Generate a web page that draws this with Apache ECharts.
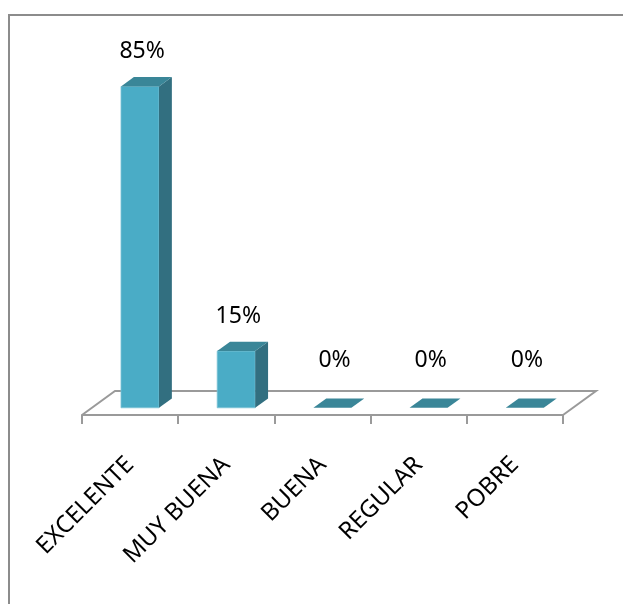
<!DOCTYPE html>
<html>
<head>
<meta charset="utf-8">
<script src="https://cdn.jsdelivr.net/npm/echarts@6/dist/echarts.min.js"></script>
<style>
  html, body { margin: 0; padding: 0; background: #fff; }
  #chart { width: 623px; height: 604px; }
</style>
</head>
<body>
<div id="chart"></div>
<script>
// Survey result shares per rating
const categories = ['EXCELENTE', 'MUY BUENA', 'BUENA', 'REGULAR', 'POBRE'];
const percentages = [85, 15, 0, 0, 0];
const valueLabels = percentages.map(v => v + '%');

const FRONT = '#4aacc6';
const SIDE = '#326f80';
const TOP = '#3a8698';
const FLOOR_LINE = '#9a9a9a';
const FONT = '"Noto Sans", "Open Sans", sans-serif';

// depth of the floor, as a fraction of one category band
const FLOOR_DX = 0.343, FLOOR_DY = -0.25;
// bars sit in the middle of the floor depth
const BAR_START = 0.30, BAR_DEPTH = 0.39, BAR_WIDTH = 0.395;

function renderFloor(params, api) {
  const band = api.size([1, 0])[0];
  const first = api.coord([0, 0]);
  const last = api.coord([categories.length - 1, 0]);
  const left = first[0] - band / 2;
  const right = last[0] + band / 2;
  const y = first[1];
  const dx = band * FLOOR_DX, dy = band * FLOOR_DY;
  return {
    type: 'polyline',
    shape: { points: [[left, y], [left + dx, y + dy], [right + dx, y + dy], [right, y]] },
    style: { stroke: FLOOR_LINE, lineWidth: 2, fill: null },
    z2: 0
  };
}

function renderBar(params, api) {
  const i = api.value(0);
  const v = api.value(1);
  const band = api.size([1, 0])[0];
  const base = api.coord([i, 0]);
  const top = api.coord([i, v]);
  const fdx = band * FLOOR_DX, fdy = band * FLOOR_DY;
  const ox = fdx * BAR_START, oy = fdy * BAR_START;
  const ddx = fdx * BAR_DEPTH, ddy = fdy * BAR_DEPTH;
  const w = band * BAR_WIDTH;
  const cx = base[0] + ox;
  const x0 = cx - w / 2, x1 = cx + w / 2;
  const yb = base[1] + oy;
  const yt = top[1] + oy;
  const children = [];
  if (yb - yt > 0.5) {
    children.push({
      type: 'rect',
      shape: { x: x0, y: yt, width: w, height: yb - yt },
      style: { fill: FRONT, stroke: '#7cc3d6', lineWidth: 0.8 }
    });
    children.push({
      type: 'polygon',
      shape: { points: [[x1, yb], [x1 + ddx, yb + ddy], [x1 + ddx, yt + ddy], [x1, yt]] },
      style: { fill: SIDE }
    });
  }
  children.push({
    type: 'polygon',
    shape: { points: [[x0, yt], [x1, yt], [x1 + ddx, yt + ddy], [x0 + ddx, yt + ddy]] },
    style: { fill: TOP }
  });
  children.push({
    type: 'text',
    style: {
      text: valueLabels[params.dataIndex],
      x: base[0] + band * 0.125,
      y: yt - 35 - (v === 0 ? 12 : 0),
      align: 'center',
      verticalAlign: 'middle',
      fill: '#000',
      font: '23px ' + FONT
    }
  });
  return { type: 'group', children: children };
}

const chart = echarts.init(document.getElementById('chart'), null, { renderer: 'canvas' });
chart.setOption({
  animation: false,
  backgroundColor: '#fff',
  graphic: [{
    type: 'rect',
    shape: { x: 9, y: 15, width: 700, height: 700 },
    style: { fill: null, stroke: '#8c8c8c', lineWidth: 2 },
    silent: true
  }],
  grid: [
    { left: 82, right: 60, top: 37, bottom: 189 }
  ],
  xAxis: [
    {
      type: 'category',
      data: categories,
      boundaryGap: true,
      axisLine: { show: true, lineStyle: { color: FLOOR_LINE, width: 2 } },
      axisTick: { show: true, length: 9, lineStyle: { color: FLOOR_LINE, width: 2 } },
      axisLabel: { show: true, rotate: 45, margin: 46, fontSize: 24, fontFamily: FONT, color: '#000', interval: 0 },
      splitLine: { show: false }
    }
  ],
  yAxis: [
    { type: 'value', min: 0, max: 100, show: false }
  ],
  series: [
    {
      type: 'custom',
      renderItem: renderFloor,
      data: [[0, 0]],
      z: 1,
      silent: true
    },
    {
      type: 'custom',
      renderItem: renderBar,
      encode: { x: 0, y: 1 },
      data: percentages.map((v, i) => [i, v]),
      z: 2,
      clip: false
    }
  ]
});
</script>
</body>
</html>
